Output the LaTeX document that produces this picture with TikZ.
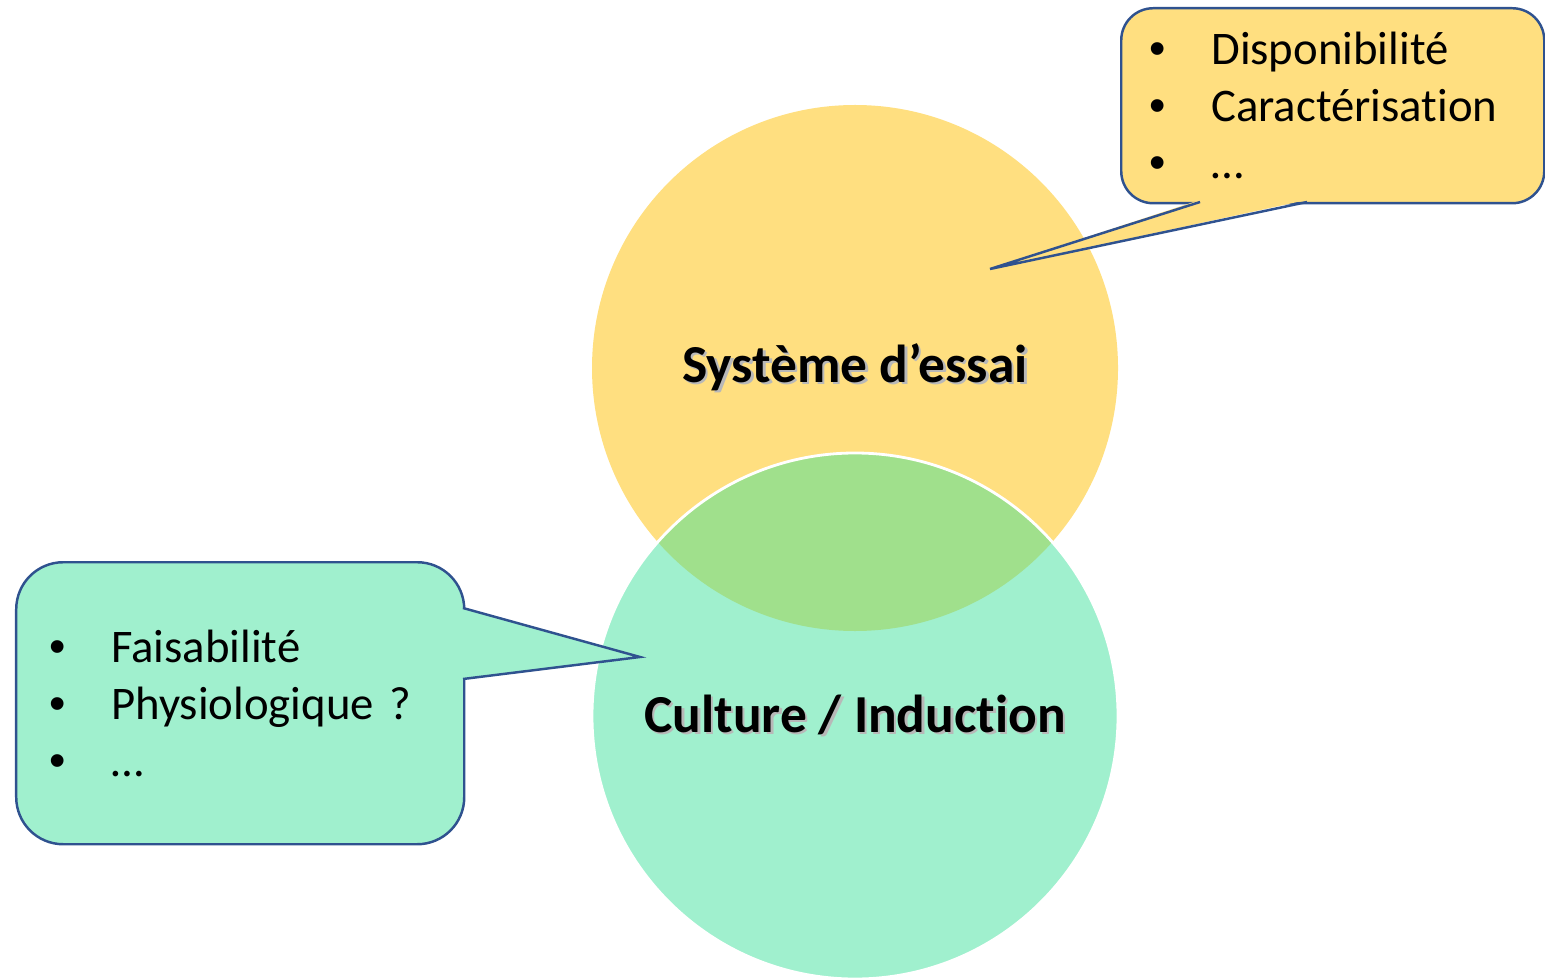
\documentclass[tikz,border=0pt]{standalone}
\usepackage{fontspec}
\setmainfont{Carlito}[Ligatures=NoCommon]
\newfontfamily\bulletfont{Liberation Sans}
\usetikzlibrary{positioning}
\definecolor{essaiyellow}{RGB}{255,223,128}
\definecolor{culturegreen}{RGB}{160,240,206}
\definecolor{overlapgreen}{RGB}{160,224,140}
\definecolor{calloutblue}{RGB}{47,82,143}
\newcommand{\shadowtext}[1]{\makebox[0pt][l]{\color{black!28}\hspace{0.7pt}\raisebox{-0.7pt}{#1}}#1}
\newcommand{\bulletitem}[1]{\makebox[0.62cm][l]{\bulletfont\textbullet}#1}

\begin{document}
\begin{tikzpicture}[
  venn/.style={circle, minimum size=5.26cm, inner sep=0pt, font=\fontsize{15.2}{18}\selectfont\bfseries},
  bubble/.style={draw=calloutblue, line width=0.7pt, align=left, inner ysep=0pt, anchor=north west, font=\fontsize{13.3}{16.2}\selectfont},
  tail/.style={draw=calloutblue, line width=0.7pt, line join=miter}
]
\useasboundingbox (0,0) rectangle (15.45,9.78);

\node[venn, fill=essaiyellow] (essai) at (8.55,6.10) {\shadowtext{Système d’essai}};
\node[venn, fill=culturegreen] (culture) at (8.55,2.62) {\shadowtext{Culture / Induction}};
% overlap of the two circles
\begin{scope}
  \clip (essai.center) circle (2.63);
  \fill[overlapgreen] (culture.center) circle (2.63);
\end{scope}
\draw[white, line width=0.8pt] (culture.center) circle (2.63);

% callouts
\node[bubble, fill=essaiyellow, rounded corners=0.32cm, text width=3.67cm, inner xsep=0.28cm, minimum height=1.95cm] (essaibox) at (11.20,9.71)
  {\bulletitem{Disponibilité}\\ \bulletitem{Caractérisation}\\ \bulletitem{…}};
\node[bubble, fill=culturegreen, rounded corners=0.47cm, text width=3.82cm, inner xsep=0.33cm, minimum height=2.82cm] (culturebox) at (0.15,4.17)
  {\bulletitem{Faisabilité}\\ \bulletitem{Physiologique ?}\\ \bulletitem{…}};

\coordinate (essaibaseA) at (12.00,7.76);
\coordinate (essaibaseB) at (13.07,7.76);
\coordinate (essaitip) at (9.90,7.09);
\coordinate (culturebaseA) at (4.63,3.70);
\coordinate (culturebaseB) at (4.63,2.99);
\coordinate (culturetip) at (6.40,3.21);

\fill[essaiyellow] ([yshift=0.6pt]essaibaseA) -- (essaitip) -- ([yshift=0.6pt]essaibaseB) -- cycle;
\draw[tail] (essaibaseA) -- (essaitip) -- (essaibaseB);
\fill[culturegreen] ([xshift=-0.6pt]culturebaseA) -- (culturetip) -- ([xshift=-0.6pt]culturebaseB) -- cycle;
\draw[tail] (culturebaseA) -- (culturetip) -- (culturebaseB);
\end{tikzpicture}
\end{document}
